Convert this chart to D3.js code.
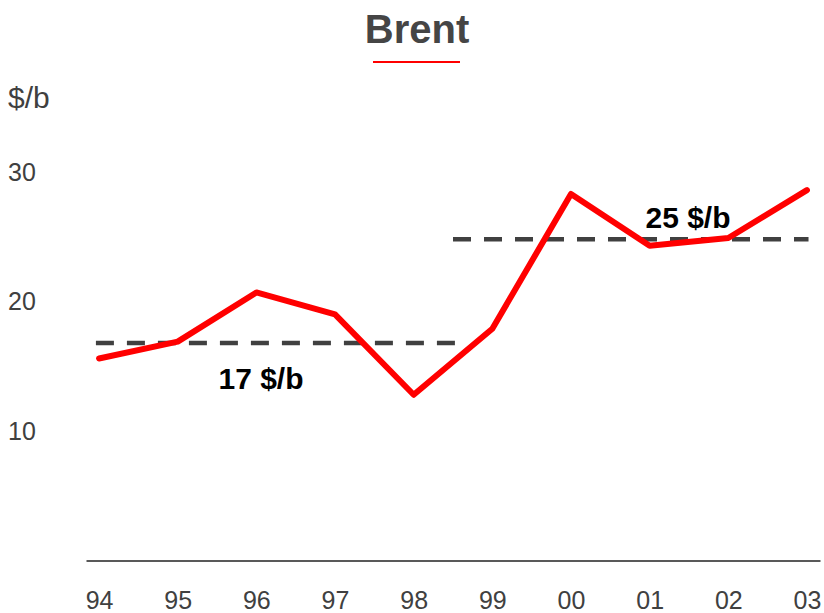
<!DOCTYPE html>
<html>
<head>
<meta charset="utf-8">
<script src="https://cdn.jsdelivr.net/npm/d3@7"></script>
<style>
  body { margin: 0; background: #fff; }
  svg { font-family: "Liberation Sans", Arial, sans-serif; }
</style>
</head>
<body>
<svg id="chart" width="824" height="613"></svg>
<script>
// Brent price, $/b, per year
var years = ["94", "95", "96", "97", "98", "99", "00", "01", "02", "03"];
var prices = [15.6, 16.9, 20.7, 19.0, 12.8, 17.9, 28.3, 24.3, 24.9, 28.6];
var yTicks = [10, 20, 30];

// period averages: value, label, start/end as year index
var avgValues = [16.8, 24.8];
var avgLabels = ["17 $/b", "25 $/b"];
var avgStart = [-0.04, 4.5];
var avgEnd = [4.6, 9.02];

var svg = d3.select("#chart");

var xScale = d3.scalePoint()
    .domain(years)
    .range([86, 820])
    .padding(0.166);

var yScale = d3.scaleLinear()
    .domain([0, 30])
    .range([560.5, 172]);

// index -> x, for the dashed average segments
var xIdx = d3.scaleLinear()
    .domain([0, years.length - 1])
    .range([xScale(years[0]), xScale(years[years.length - 1])]);

// title + red underline
svg.append("text")
    .attr("x", 417)
    .attr("y", 43)
    .attr("text-anchor", "middle")
    .style("font-size", "40px")
    .style("font-weight", "bold")
    .style("fill", "#454545")
    .text("Brent");

svg.append("line")
    .attr("x1", 373).attr("x2", 460)
    .attr("y1", 62).attr("y2", 62)
    .style("stroke", "#ff0000")
    .style("stroke-width", 2);

// unit label
svg.append("text")
    .attr("x", 8)
    .attr("y", 108)
    .style("font-size", "30px")
    .style("fill", "#404040")
    .text("$/b");

// y tick labels (no axis line)
svg.append("g")
    .selectAll("text")
    .data(yTicks)
    .enter()
    .append("text")
      .attr("x", 8)
      .attr("y", d => yScale(d))
      .attr("dy", "0.35em")
      .style("font-size", "25px")
      .style("fill", "#404040")
      .text(d => d);

// x axis
var xAxis = d3.axisBottom(xScale).tickSize(0).tickPadding(31);
var gx = svg.append("g")
    .attr("transform", "translate(0," + yScale(0) + ")")
    .call(xAxis);
gx.select(".domain")
    .style("stroke", "#595959")
    .style("stroke-width", 2);
gx.selectAll("text")
    .style("font-size", "25px")
    .style("font-family", "Liberation Sans, Arial, sans-serif")
    .style("fill", "#404040");

// dashed average lines
svg.append("g")
    .selectAll("line")
    .data(avgValues)
    .enter()
    .append("line")
      .attr("x1", (d, i) => xIdx(avgStart[i]))
      .attr("x2", (d, i) => xIdx(avgEnd[i]))
      .attr("y1", d => yScale(d))
      .attr("y2", d => yScale(d))
      .style("stroke", "#404040")
      .style("stroke-width", 4.5)
      .style("stroke-dasharray", "18,13");

// price line
var line = d3.line()
    .x((d, i) => xScale(years[i]))
    .y(d => yScale(d));

svg.append("path")
    .datum(prices)
    .attr("d", line)
    .style("fill", "none")
    .style("stroke", "#ff0000")
    .style("stroke-width", 6)
    .style("stroke-linejoin", "round")
    .style("stroke-linecap", "round");

// average labels
var labelX = [261, 688];
var labelY = [389, 228];
svg.append("g")
    .selectAll("text")
    .data(avgLabels)
    .enter()
    .append("text")
      .attr("x", (d, i) => labelX[i])
      .attr("y", (d, i) => labelY[i])
      .attr("text-anchor", "middle")
      .style("font-size", "30px")
      .style("font-weight", "bold")
      .style("fill", "#000")
      .text(d => d);
</script>
</body>
</html>
